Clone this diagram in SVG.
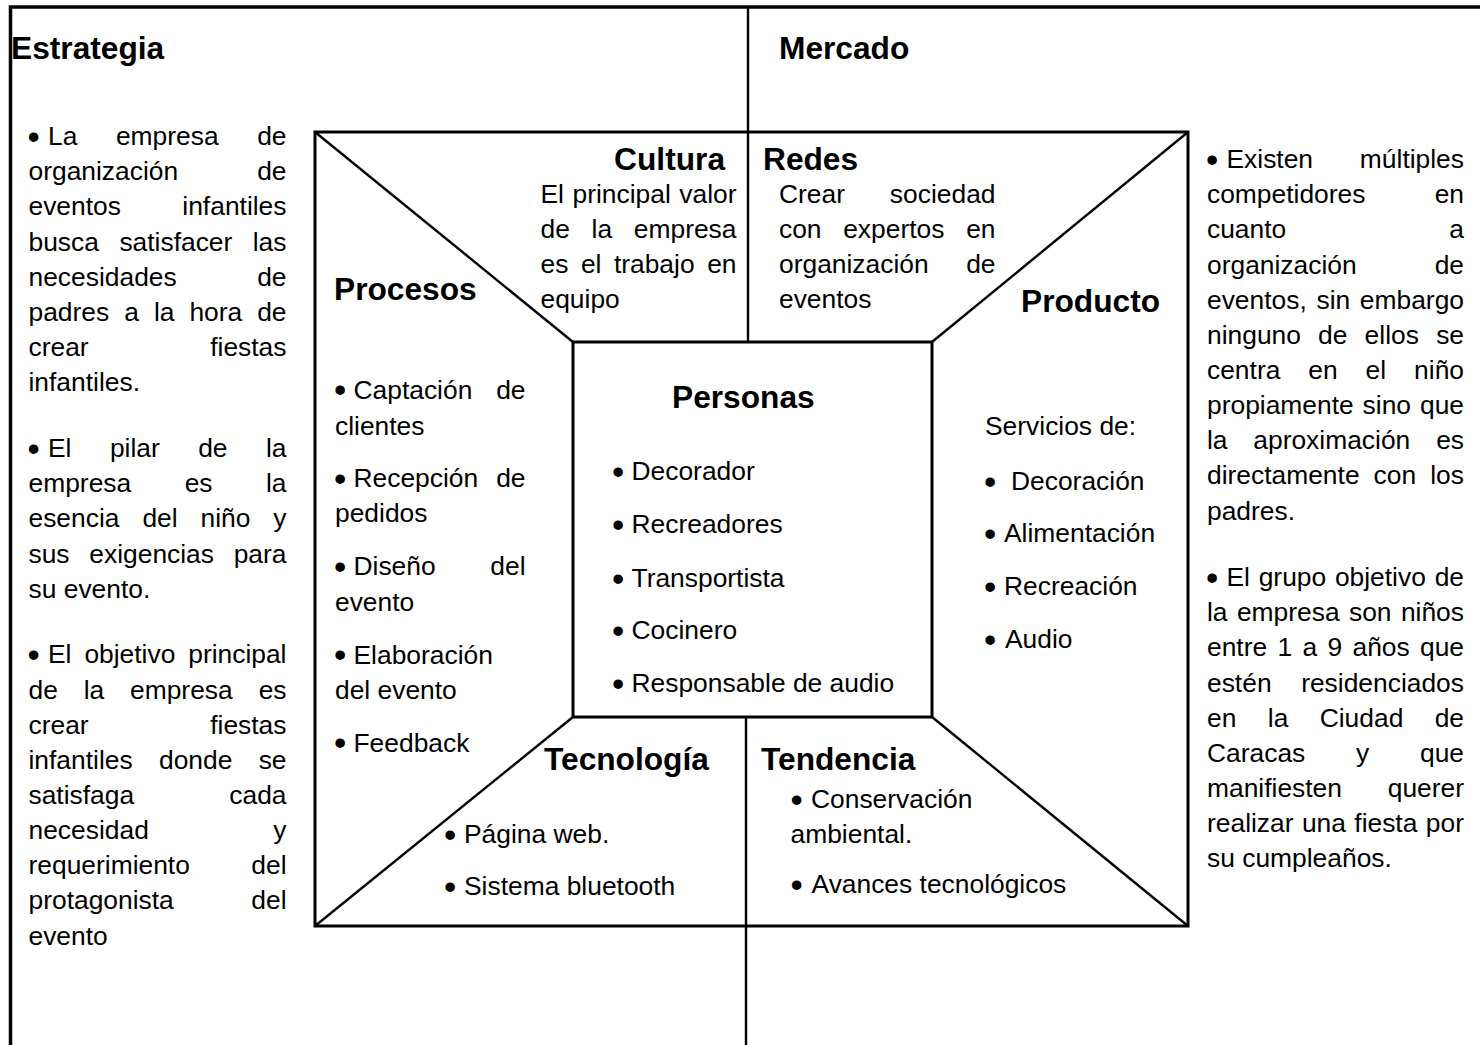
<svg xmlns="http://www.w3.org/2000/svg" width="1480" height="1045" viewBox="0 0 1480 1045">
<style>
text{font-family:"Liberation Sans",Arial,sans-serif;fill:#000}
.b{font-size:26.4px}
.bu{font-size:35px}
.h{font-size:31.7px;font-weight:bold}
.e{text-anchor:end}
.frame{fill:none;stroke:#000;stroke-width:3.5}
.box{fill:none;stroke:#000;stroke-width:3}
.ln{fill:none;stroke:#000;stroke-width:2.4}
</style>
<rect width="1480" height="1045" fill="#fff"/>
<g id="connectors">
<path class="frame" d="M10.5,1045 V7 H1480"/>
<line class="ln" x1="748" y1="7" x2="748" y2="342"/>
<line class="ln" x1="746" y1="717" x2="746" y2="1045"/>
<rect class="box" x="315" y="132" width="873" height="794"/>
<rect class="box" x="573" y="342" width="359" height="375"/>
<line class="ln" x1="315" y1="132" x2="573" y2="342"/>
<line class="ln" x1="1188" y1="132" x2="932" y2="342"/>
<line class="ln" x1="315" y1="926" x2="573" y2="717"/>
<line class="ln" x1="1188" y1="926" x2="932" y2="717"/>
</g>
<g id="estrategia">
<text class="h" x="11" y="59">Estrategia</text>
<text class="b" y="145"><tspan class="bu" x="27.5" dy="3.5">•</tspan><tspan x="48" dy="-3.5">La</tspan><tspan x="115.9">empresa</tspan><tspan x="286.5" class="e">de</tspan></text>
<text class="b" y="180.2"><tspan x="28.5">organización</tspan><tspan x="286.5" class="e">de</tspan></text>
<text class="b" y="215.3"><tspan x="28.5">eventos</tspan><tspan x="286.5" class="e">infantiles</tspan></text>
<text class="b" y="250.5"><tspan x="28.5">busca</tspan><tspan x="119.4">satisfacer</tspan><tspan x="286.5" class="e">las</tspan></text>
<text class="b" y="285.6"><tspan x="28.5">necesidades</tspan><tspan x="286.5" class="e">de</tspan></text>
<text class="b" y="320.8"><tspan x="28.5">padres</tspan><tspan x="124.2">a</tspan><tspan x="153.9">la</tspan><tspan x="189.4">hora</tspan><tspan x="286.5" class="e">de</tspan></text>
<text class="b" y="355.9"><tspan x="28.5">crear</tspan><tspan x="286.5" class="e">fiestas</tspan></text>
<text class="b" x="28.5" y="391.1">infantiles.</text>
<text class="b" y="457"><tspan class="bu" x="27.5" dy="3.5">•</tspan><tspan x="48" dy="-3.5">El</tspan><tspan x="109.9">pilar</tspan><tspan x="198.2">de</tspan><tspan x="286.5" class="e">la</tspan></text>
<text class="b" y="492.2"><tspan x="28.5">empresa</tspan><tspan x="184.7">es</tspan><tspan x="286.5" class="e">la</tspan></text>
<text class="b" y="527.3"><tspan x="28.5">esencia</tspan><tspan x="142.4">del</tspan><tspan x="200.5">niño</tspan><tspan x="286.5" class="e">y</tspan></text>
<text class="b" y="562.5"><tspan x="28.5">sus</tspan><tspan x="89.3">exigencias</tspan><tspan x="286.5" class="e">para</tspan></text>
<text class="b" x="28.5" y="597.6">su evento.</text>
<text class="b" y="663.3"><tspan class="bu" x="27.5" dy="3.5">•</tspan><tspan x="48" dy="-3.5">El</tspan><tspan x="84.4">objetivo</tspan><tspan x="286.5" class="e">principal</tspan></text>
<text class="b" y="698.5"><tspan x="28.5">de</tspan><tspan x="83.7">la</tspan><tspan x="130">empresa</tspan><tspan x="286.5" class="e">es</tspan></text>
<text class="b" y="733.6"><tspan x="28.5">crear</tspan><tspan x="286.5" class="e">fiestas</tspan></text>
<text class="b" y="768.8"><tspan x="28.5">infantiles</tspan><tspan x="159">donde</tspan><tspan x="286.5" class="e">se</tspan></text>
<text class="b" y="803.9"><tspan x="28.5">satisfaga</tspan><tspan x="286.5" class="e">cada</tspan></text>
<text class="b" y="839.1"><tspan x="28.5">necesidad</tspan><tspan x="286.5" class="e">y</tspan></text>
<text class="b" y="874.2"><tspan x="28.5">requerimiento</tspan><tspan x="286.5" class="e">del</tspan></text>
<text class="b" y="909.4"><tspan x="28.5">protagonista</tspan><tspan x="286.5" class="e">del</tspan></text>
<text class="b" x="28.5" y="944.5">evento</text>
</g>
<g id="mercado">
<text class="h" x="779" y="59">Mercado</text>
<text class="b" y="168"><tspan class="bu" x="1206" dy="3.5">•</tspan><tspan x="1226.5" dy="-3.5">Existen</tspan><tspan x="1464" class="e">múltiples</tspan></text>
<text class="b" y="203.2"><tspan x="1207">competidores</tspan><tspan x="1464" class="e">en</tspan></text>
<text class="b" y="238.3"><tspan x="1207">cuanto</tspan><tspan x="1464" class="e">a</tspan></text>
<text class="b" y="273.5"><tspan x="1207">organización</tspan><tspan x="1464" class="e">de</tspan></text>
<text class="b" y="308.6"><tspan x="1207">eventos,</tspan><tspan x="1316.5">sin</tspan><tspan x="1464" class="e">embargo</tspan></text>
<text class="b" y="343.8"><tspan x="1207">ninguno</tspan><tspan x="1318.1">de</tspan><tspan x="1364.6">ellos</tspan><tspan x="1464" class="e">se</tspan></text>
<text class="b" y="378.9"><tspan x="1207">centra</tspan><tspan x="1308.3">en</tspan><tspan x="1365.6">el</tspan><tspan x="1464" class="e">niño</tspan></text>
<text class="b" y="414.1"><tspan x="1207">propiamente</tspan><tspan x="1362.6">sino</tspan><tspan x="1464" class="e">que</tspan></text>
<text class="b" y="449.2"><tspan x="1207">la</tspan><tspan x="1253.3">aproximación</tspan><tspan x="1464" class="e">es</tspan></text>
<text class="b" y="484.4"><tspan x="1207">directamente</tspan><tspan x="1373.6">con</tspan><tspan x="1464" class="e">los</tspan></text>
<text class="b" x="1207" y="519.5">padres.</text>
<text class="b" y="586"><tspan class="bu" x="1206" dy="3.5">•</tspan><tspan x="1226.5" dy="-3.5">El</tspan><tspan x="1258.7">grupo</tspan><tspan x="1334.9">objetivo</tspan><tspan x="1464" class="e">de</tspan></text>
<text class="b" y="621.2"><tspan x="1207">la</tspan><tspan x="1236.9">empresa</tspan><tspan x="1349">son</tspan><tspan x="1464" class="e">niños</tspan></text>
<text class="b" y="656.3"><tspan x="1207">entre</tspan><tspan x="1277.5">1</tspan><tspan x="1302.5">a</tspan><tspan x="1327.5">9</tspan><tspan x="1352.5">años</tspan><tspan x="1464" class="e">que</tspan></text>
<text class="b" y="691.5"><tspan x="1207">estén</tspan><tspan x="1464" class="e">residenciados</tspan></text>
<text class="b" y="726.6"><tspan x="1207">en</tspan><tspan x="1267.8">la</tspan><tspan x="1319.7">Ciudad</tspan><tspan x="1464" class="e">de</tspan></text>
<text class="b" y="761.8"><tspan x="1207">Caracas</tspan><tspan x="1356">y</tspan><tspan x="1464" class="e">que</tspan></text>
<text class="b" y="796.9"><tspan x="1207">manifiesten</tspan><tspan x="1464" class="e">querer</tspan></text>
<text class="b" y="832.1"><tspan x="1207">realizar</tspan><tspan x="1301.9">una</tspan><tspan x="1354.3">fiesta</tspan><tspan x="1464" class="e">por</tspan></text>
<text class="b" x="1207" y="867.2">su cumpleaños.</text>
</g>
<g id="cultura">
<text class="h e" x="725" y="170">Cultura</text>
<text class="b" y="203"><tspan x="540.5">El</tspan><tspan x="572.5">principal</tspan><tspan x="736.5" class="e">valor</tspan></text>
<text class="b" y="238"><tspan x="540.5">de</tspan><tspan x="591.6">la</tspan><tspan x="736.5" class="e">empresa</tspan></text>
<text class="b" y="273"><tspan x="540.5">es</tspan><tspan x="580.9">el</tspan><tspan x="613.9">trabajo</tspan><tspan x="736.5" class="e">en</tspan></text>
<text class="b" x="540.5" y="308">equipo</text>
</g>
<g id="redes">
<text class="h" x="763" y="170">Redes</text>
<text class="b" y="203"><tspan x="779">Crear</tspan><tspan x="995.5" class="e">sociedad</tspan></text>
<text class="b" y="238"><tspan x="779">con</tspan><tspan x="843.2">expertos</tspan><tspan x="995.5" class="e">en</tspan></text>
<text class="b" y="273"><tspan x="779">organización</tspan><tspan x="995.5" class="e">de</tspan></text>
<text class="b" x="779" y="308">eventos</text>
</g>
<g id="procesos">
<text class="h" x="334" y="300">Procesos</text>
<text class="b" y="398.5"><tspan class="bu" x="334" dy="3.5">•</tspan><tspan x="353.5" dy="-3.5">Captación</tspan><tspan x="525.5" class="e">de</tspan></text>
<text class="b" x="335" y="434.5">clientes</text>
<text class="b" y="487"><tspan class="bu" x="334" dy="3.5">•</tspan><tspan x="353.5" dy="-3.5">Recepción</tspan><tspan x="525.5" class="e">de</tspan></text>
<text class="b" x="335" y="522">pedidos</text>
<text class="b" y="575"><tspan class="bu" x="334" dy="3.5">•</tspan><tspan x="353.5" dy="-3.5">Diseño</tspan><tspan x="525.5" class="e">del</tspan></text>
<text class="b" x="335" y="611">evento</text>
<text class="b" y="663.5"><tspan class="bu" x="334" dy="3.5">•</tspan><tspan x="353.5" dy="-3.5">Elaboración</tspan></text>
<text class="b" x="335" y="699">del evento</text>
<text class="b" y="751.5"><tspan class="bu" x="334" dy="3.5">•</tspan><tspan x="353.5" dy="-3.5">Feedback</tspan></text>
</g>
<g id="personas">
<text class="h" x="672" y="408">Personas</text>
<text class="b" y="480"><tspan class="bu" x="612" dy="3.5">•</tspan><tspan x="631.5" dy="-3.5">Decorador</tspan></text>
<text class="b" y="533"><tspan class="bu" x="612" dy="3.5">•</tspan><tspan x="631.5" dy="-3.5">Recreadores</tspan></text>
<text class="b" y="587"><tspan class="bu" x="612" dy="3.5">•</tspan><tspan x="631.5" dy="-3.5">Transportista</tspan></text>
<text class="b" y="639"><tspan class="bu" x="612" dy="3.5">•</tspan><tspan x="631.5" dy="-3.5">Cocinero</tspan></text>
<text class="b" y="692"><tspan class="bu" x="612" dy="3.5">•</tspan><tspan x="631.5" dy="-3.5">Responsable de audio</tspan></text>
</g>
<g id="producto">
<text class="h" x="1021" y="312">Producto</text>
<text class="b" x="985" y="435">Servicios de:</text>
<text class="b" y="490"><tspan class="bu" x="984" dy="3.5">•</tspan><tspan x="1011" dy="-3.5">Decoración</tspan></text>
<text class="b" y="542"><tspan class="bu" x="984" dy="3.5">•</tspan><tspan x="1004" dy="-3.5">Alimentación</tspan></text>
<text class="b" y="595"><tspan class="bu" x="984" dy="3.5">•</tspan><tspan x="1004" dy="-3.5">Recreación</tspan></text>
<text class="b" y="648"><tspan class="bu" x="984" dy="3.5">•</tspan><tspan x="1005" dy="-3.5">Audio</tspan></text>
</g>
<g id="tecnologia">
<text class="h" x="544" y="770">Tecnología</text>
<text class="b" y="843"><tspan class="bu" x="444" dy="3.5">•</tspan><tspan x="464" dy="-3.5">Página web.</tspan></text>
<text class="b" y="895"><tspan class="bu" x="444" dy="3.5">•</tspan><tspan x="464" dy="-3.5">Sistema bluetooth</tspan></text>
</g>
<g id="tendencia">
<text class="h" x="761" y="770">Tendencia</text>
<text class="b" y="808"><tspan class="bu" x="790.5" dy="3.5">•</tspan><tspan x="811" dy="-3.5">Conservación</tspan></text>
<text class="b" x="790.5" y="843">ambiental.</text>
<text class="b" y="893"><tspan class="bu" x="790.5" dy="3.5">•</tspan><tspan x="811.5" dy="-3.5">Avances tecnológicos</tspan></text>
</g>
</svg>
